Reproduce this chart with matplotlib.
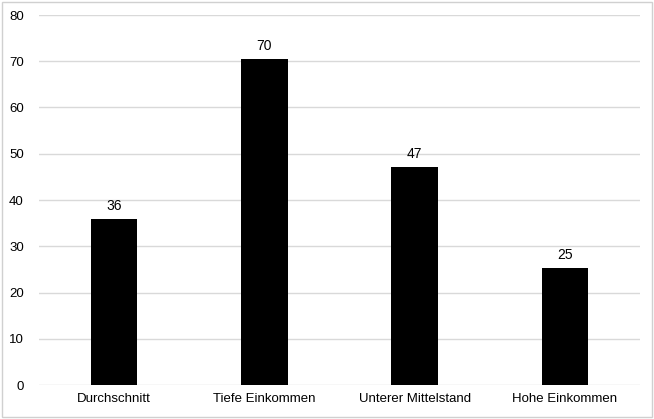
import matplotlib
matplotlib.use("Agg")
import matplotlib.pyplot as plt
from matplotlib.patches import Rectangle

categories = ["Durchschnitt", "Tiefe Einkommen", "Unterer Mittelstand", "Hohe Einkommen"]
values = [35.9, 70.4, 47.1, 25.3]
labels = ["36", "70", "47", "25"]
yticks = [0, 10, 20, 30, 40, 50, 60, 70, 80]

plt.rcParams['font.family'] = ['Liberation Sans', 'DejaVu Sans']
fig = plt.figure(figsize=(6.54, 4.19), dpi=100)
ax = fig.add_axes([39 / 654, 34 / 419, 601 / 654, 370 / 419])
x = range(len(categories))
bars = ax.bar(x, values, width=0.31, color="black", zorder=3)
for b, l in zip(bars, labels):
    ax.annotate(l, (b.get_x() + b.get_width() / 2, b.get_height()), xytext=(0, 4.5),
                textcoords="offset points", ha="center", va="bottom", fontsize=10, color="black")
ax.set_xlim(-0.5, len(categories) - 0.5)
ax.set_ylim(0, 80)
ax.set_yticks(yticks)
ax.set_xticks(list(x))
ax.set_xticklabels(categories, fontsize=9.5)
ax.tick_params(axis='y', labelsize=9.5, length=0, pad=11)
ax.tick_params(axis='x', length=0, pad=6)
ax.grid(axis='y', color="#d9d9d9", linewidth=1, zorder=0)
for s in ax.spines.values():
    s.set_visible(False)
fig.patches.append(Rectangle((0.003, 0.005), 0.994, 0.99, transform=fig.transFigure,
                             fill=False, edgecolor="#d0d0d0", linewidth=1))
fig.savefig("out.png", dpi=100)
